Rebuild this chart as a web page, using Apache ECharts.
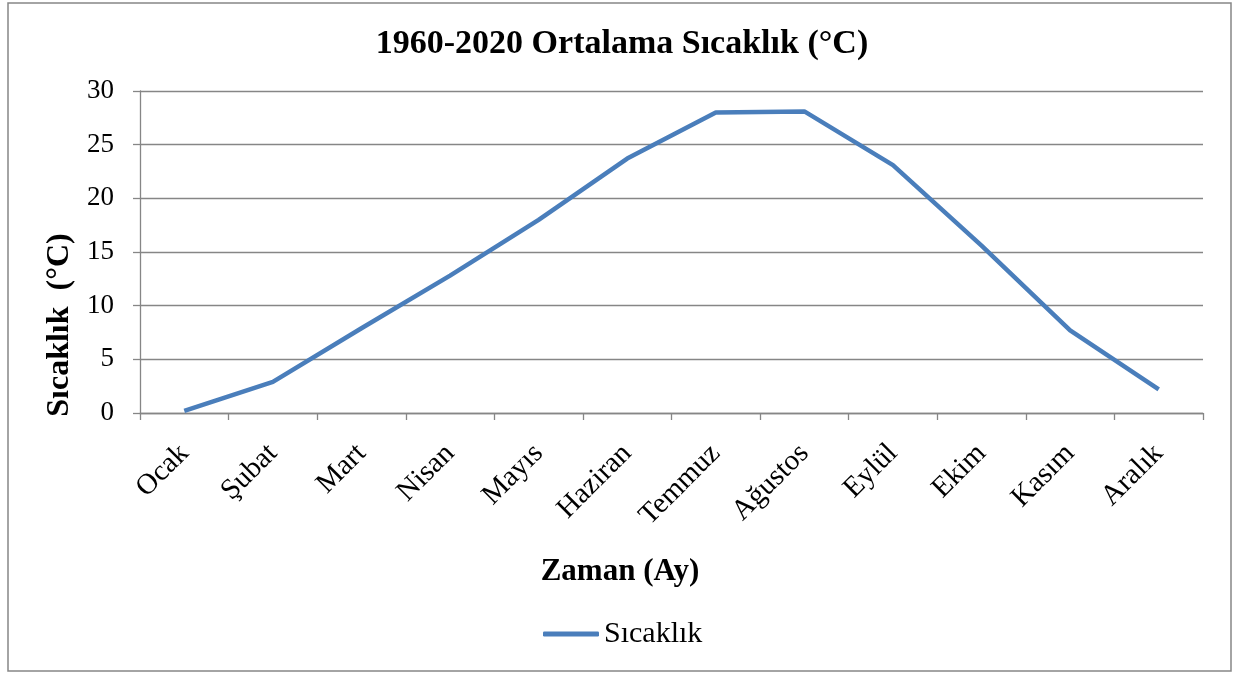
<!DOCTYPE html>
<html>
<head>
<meta charset="utf-8">
<script src="https://cdn.jsdelivr.net/npm/echarts@6/dist/echarts.min.js"></script>
<style>
html,body{margin:0;padding:0;background:#fff;}
#chart{width:1234px;height:677px;}
</style>
</head>
<body>
<div id="chart"></div>
<script>
const months = ['Ocak','Şubat','Mart','Nisan','Mayıs','Haziran','Temmuz','Ağustos','Eylül','Ekim','Kasım','Aralık'];
const temps = [0.2, 2.9, 7.9, 12.8, 18.0, 23.7, 28.0, 28.1, 23.1, 15.6, 7.7, 2.2];
const seriesName = 'Sıcaklık';
const titleText = '1960-2020 Ortalama Sıcaklık (°C)';
const xName = 'Zaman (Ay)';
const yName = 'Sıcaklık  (°C)';

const FONT = "'Liberation Serif', 'Times New Roman', serif";
const chart = echarts.init(document.getElementById('chart'), null, {renderer: 'canvas'});
chart.setOption({
  animation: false,
  backgroundColor: '#fff',
  grid: {left: 140, right: 31, top: 91, bottom: 264, containLabel: false},
  legend: {
    data: [{name: seriesName, icon: 'roundRect'}],
    left: 538, top: 614,
    itemWidth: 56, itemHeight: 5,
    textStyle: {fontFamily: FONT, fontSize: 30, color: '#000'}
  },
  xAxis: {
    type: 'category',
    data: months,
    boundaryGap: true,
    axisLine: {lineStyle: {color: '#868686', width: 1.3}},
    axisTick: {show: true, length: 7, lineStyle: {color: '#868686', width: 1.3}},
    axisLabel: {rotate: 45, margin: 36, verticalAlign: 'middle', fontFamily: FONT, fontSize: 29, color: '#000', interval: 0}
  },
  yAxis: {
    type: 'value',
    min: 0, max: 30, interval: 5,
    axisLine: {show: true, lineStyle: {color: '#868686', width: 1.3}},
    axisTick: {show: true, length: 7, lineStyle: {color: '#868686', width: 1.3}},
    axisLabel: {margin: 26, fontFamily: FONT, fontSize: 27, color: '#000'},
    splitLine: {lineStyle: {color: '#868686', width: 1.3}}
  },
  series: [{
    name: seriesName,
    type: 'line',
    data: temps,
    symbol: 'none',
    lineStyle: {color: '#4a7ebb', width: 4.5},
    itemStyle: {color: '#4a7ebb'}
  }],
  graphic: [
    {type: 'rect', shape: {x: 8, y: 3, width: 1223, height: 668}, style: {fill: 'none', stroke: '#868686', lineWidth: 1.5}, z: -1},
    {type: 'text', x: 622, y: 44, style: {text: titleText, font: "bold 34px 'Liberation Serif', serif", fill: '#000', textAlign: 'center', textVerticalAlign: 'middle'}},
    {type: 'text', x: 620, y: 572, style: {text: xName, font: "bold 31px 'Liberation Serif', serif", fill: '#000', textAlign: 'center', textVerticalAlign: 'middle'}},
    {type: 'text', x: 60, y: 325, rotation: Math.PI / 2, style: {text: yName, font: "bold 32px 'Liberation Serif', serif", fill: '#000', textAlign: 'center', textVerticalAlign: 'middle'}}
  ]
});
</script>
</body>
</html>
